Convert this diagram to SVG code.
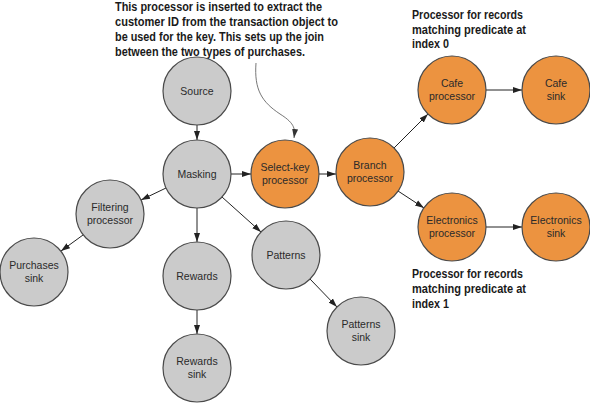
<svg xmlns="http://www.w3.org/2000/svg" width="590" height="403" viewBox="0 0 590 403">
<style>
.g{fill:#cbcbcb;stroke:#4a4a4a;stroke-width:1.2}
.o{fill:#ec9340;stroke:#4a4a4a;stroke-width:1.2}
.l{font-family:"Liberation Sans",Arial,sans-serif;font-size:10.5px;fill:#2a2a2a;text-anchor:middle}
.a{font-family:"Liberation Sans",Arial,sans-serif;font-size:12.5px;font-weight:bold;fill:#1a1a1a}
.e{stroke:#222;stroke-width:1;fill:none;marker-end:url(#ah)}
</style>
<defs>
<marker id="ah" markerWidth="10" markerHeight="8" refX="9" refY="4" orient="auto" markerUnits="userSpaceOnUse">
<path d="M0,1 L9,4 L0,7 Z" fill="#222"/>
</marker>
<marker id="ah2" markerWidth="10" markerHeight="8" refX="9" refY="4" orient="auto" markerUnits="userSpaceOnUse">
<path d="M0,1 L9,4 L0,7 Z" fill="#333"/>
</marker>
</defs>
<rect width="590" height="403" fill="#fff"/>
<g id="annotations">
<text class="a" x="115" y="11" textLength="207" lengthAdjust="spacingAndGlyphs">This processor is inserted to extract the</text>
<text class="a" x="115" y="26" textLength="223" lengthAdjust="spacingAndGlyphs">customer ID from the transaction object to</text>
<text class="a" x="115" y="41" textLength="209" lengthAdjust="spacingAndGlyphs">be used for the key. This sets up the join</text>
<text class="a" x="115" y="56" textLength="190" lengthAdjust="spacingAndGlyphs">between the two types of purchases.</text>
<text class="a" x="412" y="19" textLength="111" lengthAdjust="spacingAndGlyphs">Processor for records</text>
<text class="a" x="412" y="34" textLength="114" lengthAdjust="spacingAndGlyphs">matching predicate at</text>
<text class="a" x="412" y="48" textLength="37" lengthAdjust="spacingAndGlyphs">index 0</text>
<text class="a" x="412" y="278" textLength="111" lengthAdjust="spacingAndGlyphs">Processor for records</text>
<text class="a" x="412" y="293" textLength="114" lengthAdjust="spacingAndGlyphs">matching predicate at</text>
<text class="a" x="412" y="308" textLength="37" lengthAdjust="spacingAndGlyphs">index 1</text>
<path d="M256,63 C254,90 262,102 280,114 C296,124 295,130 294,138" fill="none" stroke="#666" stroke-width="0.9" marker-end="url(#ah2)"/>
</g>
<g id="connectors">
<line class="e" x1="197" y1="125" x2="197" y2="140"/>
<line class="e" x1="231" y1="174" x2="251" y2="174"/>
<line class="e" x1="319" y1="174" x2="336" y2="174"/>
<line class="e" x1="394" y1="148" x2="428" y2="114"/>
<line class="e" x1="398" y1="191" x2="424" y2="208"/>
<line class="e" x1="486" y1="90" x2="522" y2="90"/>
<line class="e" x1="486" y1="227" x2="522" y2="227"/>
<line class="e" x1="166" y1="188" x2="141" y2="200"/>
<line class="e" x1="83" y1="235" x2="61" y2="251"/>
<line class="e" x1="197" y1="208" x2="197" y2="242"/>
<line class="e" x1="197" y1="310" x2="197" y2="334"/>
<line class="e" x1="222" y1="197" x2="261" y2="232"/>
<line class="e" x1="310" y1="279" x2="337" y2="307"/>
</g>
<g id="source"><circle class="g" cx="197" cy="91" r="34"/><text class="l" x="197" y="95">Source</text></g>
<g id="masking"><circle class="g" cx="197" cy="174" r="34"/><text class="l" x="197" y="178">Masking</text></g>
<g id="filtering"><circle class="g" cx="110" cy="214" r="34"/><text class="l" x="110" y="211">Filtering</text><text class="l" x="110" y="224">processor</text></g>
<g id="purchases-sink"><circle class="g" cx="34" cy="272" r="34"/><text class="l" x="34" y="269">Purchases</text><text class="l" x="34" y="282">sink</text></g>
<g id="rewards"><circle class="g" cx="197" cy="276" r="34"/><text class="l" x="197" y="280">Rewards</text></g>
<g id="rewards-sink"><circle class="g" cx="197" cy="368" r="34"/><text class="l" x="197" y="365">Rewards</text><text class="l" x="197" y="378">sink</text></g>
<g id="patterns"><circle class="g" cx="286" cy="255" r="34"/><text class="l" x="286" y="259">Patterns</text></g>
<g id="patterns-sink"><circle class="g" cx="361" cy="331" r="34"/><text class="l" x="361" y="328">Patterns</text><text class="l" x="361" y="341">sink</text></g>
<g id="select-key"><circle class="o" cx="285" cy="174" r="34"/><text class="l" x="285" y="171">Select-key</text><text class="l" x="285" y="184">processor</text></g>
<g id="branch"><circle class="o" cx="370" cy="172" r="34"/><text class="l" x="370" y="169">Branch</text><text class="l" x="370" y="182">processor</text></g>
<g id="cafe-processor"><circle class="o" cx="452" cy="90" r="34"/><text class="l" x="452" y="87">Cafe</text><text class="l" x="452" y="100">processor</text></g>
<g id="cafe-sink"><circle class="o" cx="556" cy="90" r="34"/><text class="l" x="556" y="87">Cafe</text><text class="l" x="556" y="100">sink</text></g>
<g id="electronics-processor"><circle class="o" cx="452" cy="227" r="34"/><text class="l" x="452" y="224">Electronics</text><text class="l" x="452" y="237">processor</text></g>
<g id="electronics-sink"><circle class="o" cx="556" cy="227" r="34"/><text class="l" x="556" y="224">Electronics</text><text class="l" x="556" y="237">sink</text></g>
</svg>
